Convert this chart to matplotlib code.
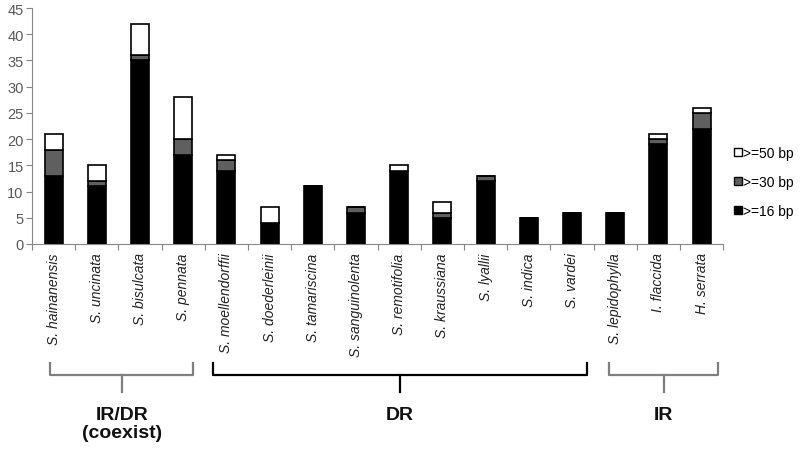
import matplotlib
matplotlib.use("Agg")
import matplotlib.pyplot as plt
import numpy as np
from matplotlib.lines import Line2D

plt.rcParams["font.family"] = ["Liberation Sans", "DejaVu Sans"]

species = [
    "S. hainanensis", "S. uncinata", "S. bisulcata", "S. pennata",
    "S. moellendorffii", "S. doederleinii", "S. tamariscina", "S. sanguinolenta",
    "S. remotifolia", "S. kraussiana", "S. lyallii", "S. indica", "S. vardei",
    "S. lepidophylla", "I. flaccida", "H. serrata",
]
bp16 = [13, 11, 35, 17, 14, 4, 11, 6, 14, 5, 12, 5, 6, 6, 19, 22]
bp30 = [5, 1, 1, 3, 2, 0, 0, 1, 0, 1, 1, 0, 0, 0, 1, 3]
bp50 = [3, 3, 6, 8, 1, 3, 0, 0, 1, 2, 0, 0, 0, 0, 1, 1]
group_labels = ["IR/DR\n(coexist)", "DR", "IR"]
group_first = [0, 4, 13]
group_last = [3, 12, 15]
group_colors = ["#7f7f7f", "black", "#7f7f7f"]

x = np.arange(len(species))
b16 = np.array(bp16)
b30 = np.array(bp30)
b50 = np.array(bp50)

fig = plt.figure(figsize=(8, 4.52), dpi=100)
ax = fig.add_axes([0.04, 0.458, 0.864, 0.522])
w = 0.42
kw = dict(width=w, edgecolor="black", linewidth=1.2)
ax.bar(x, b16, color="black", **kw)
ax.bar(x, b30, bottom=b16, color="#5f5f5f", **kw)
ax.bar(x, b50, bottom=b16 + b30, color="white", **kw)

ax.set_xlim(-0.5, len(species) - 0.5)
ax.set_ylim(0, 45)
ax.set_yticks(range(0, 46, 5))
for s in ["top", "right"]:
    ax.spines[s].set_visible(False)
for s in ["left", "bottom"]:
    ax.spines[s].set_color("#868686")
ax.tick_params(axis="y", colors="#868686", labelcolor="#595959", labelsize=10.5, length=4, pad=2)
ax.set_xticks(np.arange(len(species) + 1) - 0.5)
ax.set_xticklabels([])
ax.tick_params(axis="x", colors="#868686", length=4)
for i, name in enumerate(species):
    ax.text(i, -1.6, name, rotation=90, ha="center", va="top", fontsize=10,
            style="italic", color="#222222")

handles = [
    Line2D([], [], marker="s", ls="", markerfacecolor="white", markeredgecolor="black", markersize=6),
    Line2D([], [], marker="s", ls="", markerfacecolor="#5f5f5f", markeredgecolor="black", markersize=6),
    Line2D([], [], marker="s", ls="", markerfacecolor="black", markeredgecolor="black", markersize=6),
]
fig.legend(handles, [">=50 bp", ">=30 bp", ">=16 bp"], loc="center left",
           bbox_to_anchor=(0.911, 0.595), frameon=False, fontsize=10,
           handlelength=0.5, handletextpad=0.12, labelspacing=1.1,
           borderpad=0.2, borderaxespad=0.2)

# group brackets below the species names
def px(xd):
    return ax.transData.transform((xd, 0))[0] / 800

pad_left = [-0.08, -0.31, -0.14]
pad_right = [0.23, 0.35, 0.38]
ytop = 1 - 364 / 452
ymid = 1 - 376 / 452
ybot = 1 - 393 / 452
for k, label in enumerate(group_labels):
    x0 = px(group_first[k] + pad_left[k])
    x1 = px(group_last[k] + pad_right[k])
    xm = (x0 + x1) / 2
    col = group_colors[k]
    fig.add_artist(Line2D([x0, x0, x1, x1], [ytop, ymid, ymid, ytop], color=col, lw=1.6,
                          transform=fig.transFigure, solid_joinstyle="round"))
    fig.add_artist(Line2D([xm, xm], [ymid, ybot], color=col, lw=1.6, transform=fig.transFigure))
    fig.text(xm, 1 - 407 / 452, label, ha="center", va="top", fontsize=14,
             fontweight="bold", linespacing=1.05, color="#111111")

fig.savefig("out.png", dpi=100)
